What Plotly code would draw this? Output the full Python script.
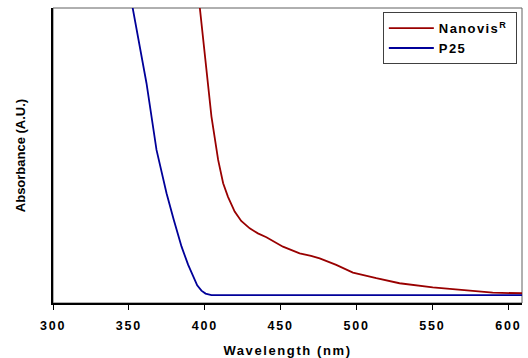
import plotly.graph_objects as go

# P25 absorbance (arbitrary units, 0..1 of plot height)
p25_wl = [350, 352.4, 356.1, 361.6, 368.2, 374.8, 379.6, 384.7, 389, 392.3, 395, 397.8, 400.5, 404.4, 420, 500, 609]
p25_abs = [1.07, 1.0, 0.892, 0.745, 0.519, 0.372, 0.281, 0.191, 0.13, 0.089, 0.06, 0.042, 0.032, 0.027, 0.027, 0.027, 0.027]

# Nanovis absorbance
nano_wl = [395.5, 396.7, 401.1, 404.4, 408.8, 412.1, 415.3, 419.7, 424, 429.6, 435, 440.6, 451.5, 462.5, 470,
           475.7, 486.6, 497.6, 513, 528.3, 550.2, 572.2, 589.7, 609]
nano_abs = [1.06, 1.0, 0.801, 0.632, 0.485, 0.406, 0.360, 0.310, 0.278, 0.253, 0.236, 0.223, 0.191, 0.168, 0.160,
            0.151, 0.129, 0.103, 0.084, 0.067, 0.053, 0.042, 0.035, 0.033]

series_names = ["Nanovis<sup>R</sup>", "P25"]
x_ticks = [300, 350, 400, 450, 500, 550, 600]

FONT = "Liberation Sans, Arial, sans-serif"
PAD = "\u00a0" * 4  # keeps the legend box wide enough for letter-spaced text

fig = go.Figure()
fig.add_trace(go.Scatter(x=nano_wl, y=nano_abs, mode="lines", name=series_names[0] + PAD,
                         line=dict(color="#990000", width=1.8)))
fig.add_trace(go.Scatter(x=p25_wl, y=p25_abs, mode="lines", name=series_names[1],
                         line=dict(color="#000099", width=1.8)))

fig.update_layout(
    width=528, height=358,
    margin=dict(l=53, r=6, t=8, b=55, autoexpand=False),
    paper_bgcolor="white", plot_bgcolor="white",
    font=dict(family=FONT, color="black", size=12),
    showlegend=True,
    legend=dict(x=0.989, y=0.986, xanchor="right", yanchor="top",
                bgcolor="white", bordercolor="#404040", borderwidth=1,
                font=dict(family=FONT, size=13, color="black", weight="bold"),
                tracegroupgap=0, itemwidth=45),
    xaxis=dict(range=[300, 609], tickvals=x_ticks, ticktext=[str(v) for v in x_ticks],
               showgrid=False, zeroline=False, showline=True, linecolor="black", linewidth=2,
               ticks="outside", ticklen=5, tickwidth=1, tickcolor="black", ticklabelstandoff=5,
               tickfont=dict(family=FONT, size=12.5, weight="bold"),
               title=dict(text="Wavelength (nm)", font=dict(family=FONT, size=13, weight="bold"), standoff=14)),
    yaxis=dict(range=[0, 1], showgrid=False, zeroline=False, showline=True, linecolor="black", linewidth=2,
               showticklabels=False, ticks="",
               title=dict(text="Absorbance (A.U.)", font=dict(family=FONT, size=13, weight="bold"), standoff=22)),
    shapes=[dict(type="rect", xref="paper", yref="paper", x0=0, x1=1, y0=0, y1=1,
                 line=dict(color="#606060", width=1), layer="below")],
)

post = """
document.body.style.margin = '0';
var gd = document.getElementById('{plot_id}');
gd.querySelectorAll('.xtick text').forEach(function(e){e.style.letterSpacing='1.8px';});
gd.querySelectorAll('.g-xtitle text').forEach(function(e){e.style.letterSpacing='1.6px';});
gd.querySelectorAll('.legendtext').forEach(function(e){e.style.letterSpacing='1.4px';});
"""

fig.write_html("out.html", post_script=post, config={"displayModeBar": False})
